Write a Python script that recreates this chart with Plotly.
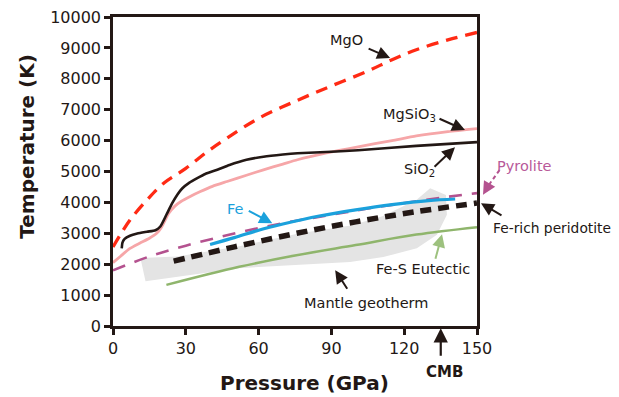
import plotly.graph_objects as go

# ---------------- data ----------------
mgo_p = [0, 3, 7, 14, 21, 30, 39, 47, 60, 75, 90, 105, 115, 125, 138, 150]
mgo_t = [2560, 2950, 3430, 4080, 4630, 5100, 5650, 6080, 6720, 7270, 7770, 8250, 8620, 8940, 9260, 9500]

sio2_p = [3.6, 3.9, 4.8, 7, 10, 14, 17.5, 19.5, 22, 24.4, 26.5, 28.5, 31.5, 34.6, 38, 43, 48, 55, 62, 70, 76, 90, 101, 125, 150]
sio2_t = [2510, 2700, 2820, 2920, 2990, 3050, 3100, 3220, 3600, 3975, 4250, 4450, 4640, 4780, 4920, 5055, 5210, 5380, 5480, 5550, 5590, 5640, 5690, 5830, 5950]

mgsio3_p = [0, 3, 7, 11, 15, 18, 20, 23, 25.5, 28, 32, 36, 41, 47, 55, 62, 70, 76, 88, 101, 115, 125, 138, 150]
mgsio3_t = [2050, 2250, 2510, 2680, 2840, 3000, 3200, 3650, 3880, 4030, 4200, 4350, 4520, 4676, 4880, 5055, 5240, 5380, 5600, 5800, 6000, 6150, 6290, 6390]

pyro_p = [0, 15, 30, 45, 60, 75, 90, 105, 120, 135, 150]
pyro_t = [1800, 2250, 2600, 2900, 3170, 3400, 3600, 3800, 3980, 4150, 4300]

fe_p = [40, 50, 60, 70, 85, 100, 115, 130, 141]
fe_t = [2640, 2860, 3100, 3300, 3560, 3760, 3930, 4060, 4110]

ferich_p = [25, 50, 75, 100, 125, 150]
ferich_t = [2100, 2560, 2990, 3370, 3700, 3980]

geo_p = [22, 52, 75, 100, 125, 150]
geo_t = [1330, 1916, 2280, 2620, 2960, 3200]

# Fe-S eutectic shaded band (outline)
band_p = [11.3, 26.5, 52, 77, 98, 111, 125, 130.7, 137.2, 137.6, 133.5, 125.2, 111.4, 97.7, 51.8, 13.4]
band_t = [2200, 2250, 2580, 3000, 3250, 3550, 4080, 4460, 4240, 3600, 2950, 2520, 2230, 2070, 1870, 1450]

x_ticks = [0, 30, 60, 90, 120, 150]
y_ticks = [0, 1000, 2000, 3000, 4000, 5000, 6000, 7000, 8000, 9000, 10000]

INK = "#231815"
FONT = "DejaVu Sans"

# plot-area geometry in page (screenshot) pixels; the page body adds an 8px offset
OFF = 8
L, R, T, B = 112.5, 477.0, 17.0, 325.7
W_, H_ = 619 - OFF, 397 - OFF


def fx(px):
    return (px - L) / (R - L)


def fy(py):
    return (B - py) / (B - T)


fig = go.Figure()

fig.add_trace(go.Scatter(x=band_p, y=band_t, fill="toself", fillcolor="#E4E4E4",
                         line=dict(width=0), mode="lines", hoverinfo="skip"))
fig.add_trace(go.Scatter(x=geo_p, y=geo_t, mode="lines", line=dict(color="#8FB56C", width=2.5, shape="spline")))
fig.add_trace(go.Scatter(x=pyro_p, y=pyro_t, mode="lines",
                         line=dict(color="#B4528F", width=2.6, dash="13px,10px", shape="spline")))
fig.add_trace(go.Scatter(x=fe_p, y=fe_t, mode="lines", line=dict(color="#1BA1DC", width=3.2, shape="spline")))
fig.add_trace(go.Scatter(x=ferich_p, y=ferich_t, mode="lines",
                         line=dict(color=INK, width=5.5, dash="11px,7px", shape="spline")))
fig.add_trace(go.Scatter(x=mgsio3_p, y=mgsio3_t, mode="lines",
                         line=dict(color="#F6A6A8", width=2.8, shape="spline", smoothing=0.6)))
fig.add_trace(go.Scatter(x=sio2_p, y=sio2_t, mode="lines",
                         line=dict(color=INK, width=2.6, shape="spline", smoothing=0.6)))
fig.add_trace(go.Scatter(x=mgo_p, y=mgo_t, mode="lines",
                         line=dict(color="#FF2A14", width=3.3, dash="12px,8px", shape="spline")))

ann = []


def label(text, px, py, color=INK, size=14.5, bold=False, angle=0):
    ann.append(dict(x=fx(px), y=fy(py), xref="paper", yref="paper",
                    text=("<b>%s</b>" % text) if bold else text, textangle=angle,
                    showarrow=False, font=dict(family=FONT, size=size, color=color),
                    xanchor="center", yanchor="middle"))


def arrow(tx, ty, hx, hy, color=INK, width=2):
    ann.append(dict(x=fx(hx), y=fy(hy), xref="paper", yref="paper", ax=tx - hx, ay=ty - hy,
                    text="", showarrow=True, arrowhead=2, arrowsize=1.3, arrowwidth=width,
                    arrowcolor=color, standoff=0, startstandoff=0))


label("MgO", 346, 40)
arrow(367, 48, 390, 58)
label("MgSiO<sub>3</sub>", 409, 115)
arrow(438, 118, 465, 130)
label("SiO<sub>2</sub>", 419, 170)
arrow(433, 168, 455, 147)
label("Pyrolite", 525, 166, color="#B8599A")
arrow(488, 186, 483, 194.5, color="#B4528F")
label("Fe", 235, 209, color="#1BA1DC")
arrow(247, 210, 272, 223, color="#1BA1DC")
label("Fe-rich peridotite", 552, 228, size=13.8)
arrow(503, 216, 481, 203)
label("Fe-S Eutectic", 422.5, 269)
arrow(435, 260, 442, 234, color="#9DC17E")
label("Mantle geotherm", 366, 303)
arrow(348, 290, 335, 270)
label("CMB", 444, 372, size=15, bold=True)
arrow(440.7, 357, 440.7, 328, width=2.2)
label("Pressure (GPa)", 304, 383, size=20, bold=True)
label("Temperature (K)", 27, 146, size=20, bold=True, angle=-90)

fig.update_layout(
    width=W_, height=H_,
    margin=dict(l=L - OFF, r=W_ - (R - OFF), t=T - OFF, b=H_ - (B - OFF), autoexpand=False),
    paper_bgcolor="white", plot_bgcolor="white",
    showlegend=False, hovermode=False,
    annotations=ann,
    shapes=[dict(type="line", xref="paper", yref="paper",
                 x0=fx(499.5), y0=fy(170), x1=fx(488), y1=fy(186),
                 line=dict(color="#B4528F", width=2, dash="4px,3px"))],
)
common = dict(ticks="outside", ticklen=6, tickwidth=2.5, automargin=False, ticklabeloverflow="allow",
              tickcolor=INK, showline=True, linewidth=2.5, linecolor=INK, mirror=True,
              showgrid=False, zeroline=False, tickfont=dict(family=FONT, size=16, color=INK))
fig.update_xaxes(range=[0, 150], tickvals=x_ticks, ticktext=[str(v) for v in x_ticks], **common)
fig.update_yaxes(range=[0, 10000], tickvals=y_ticks, ticktext=[str(v) for v in y_ticks], **common)

fig.write_html("out.html")
